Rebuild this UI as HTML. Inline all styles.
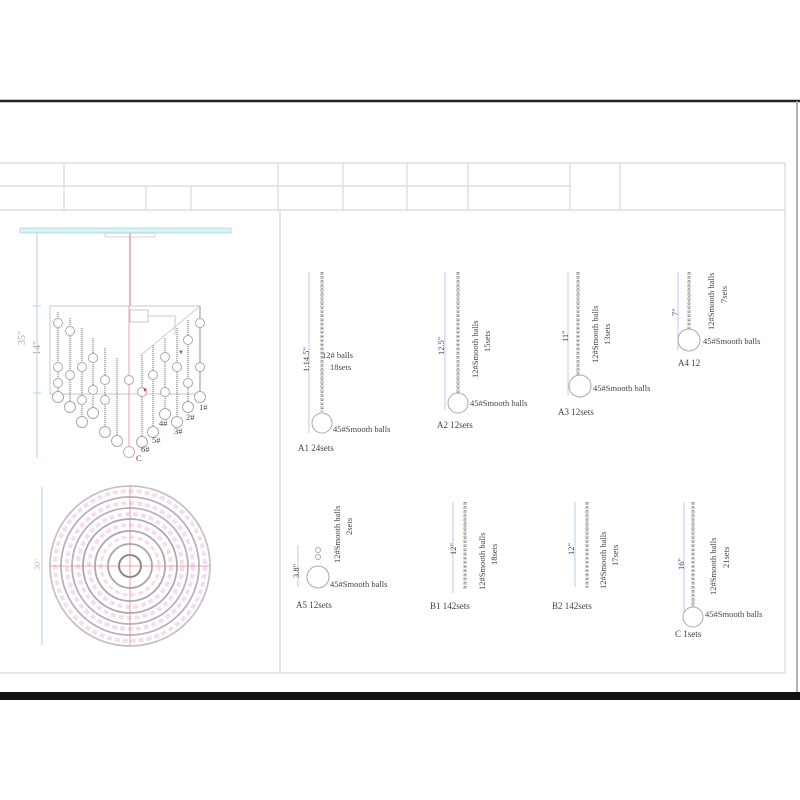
<!DOCTYPE html>
<html><head><meta charset="utf-8"><style>
html,body{margin:0;padding:0;background:#fff}
svg{display:block}
text{font-family:"Liberation Serif",serif;fill:#444;font-size:8.5px}
.g{stroke:#d8d8d8;stroke-width:1.2;fill:none}
.ch{stroke:#c4c4c4;stroke-width:3.5;stroke-dasharray:3 1.2;fill:none}
.cd{stroke:#666;stroke-width:1;stroke-dasharray:1 3;fill:none}
.dm{stroke:#9ec6e8;stroke-width:0.8}
.b{fill:#fff;stroke:#aaa;stroke-width:1}
.lc{stroke:#aaa;stroke-width:1.6;stroke-dasharray:1.2 0.8}
.lb{fill:none;stroke:#bbb;stroke-width:0.8}
</style></head><body>
<svg width="800" height="800" viewBox="0 0 800 800" xmlns="http://www.w3.org/2000/svg">
<rect width="800" height="800" fill="#fff"/>
<line x1="0" y1="101" x2="800" y2="101" stroke="#222" stroke-width="2.5"/>
<line x1="797" y1="101" x2="797" y2="696" stroke="#999" stroke-width="1.5"/>
<rect x="0" y="692" width="800" height="8" fill="#111"/>
<line x1="0" y1="673" x2="785" y2="673" class="g"/>
<line x1="785" y1="163" x2="785" y2="673" class="g"/>
<line x1="0" y1="163" x2="785" y2="163" class="g"/>
<line x1="0" y1="186" x2="570" y2="186" class="g"/>
<line x1="0" y1="210" x2="785" y2="210" class="g"/>
<g class="g">
<line x1="64" y1="163" x2="64" y2="210"/><line x1="278" y1="163" x2="278" y2="210"/>
<line x1="343" y1="163" x2="343" y2="210"/><line x1="407" y1="163" x2="407" y2="210"/>
<line x1="468" y1="163" x2="468" y2="210"/><line x1="570" y1="163" x2="570" y2="210"/>
<line x1="620" y1="163" x2="620" y2="210"/>
<line x1="146" y1="186" x2="146" y2="210"/><line x1="191" y1="186" x2="191" y2="210"/>
<line x1="280" y1="210" x2="280" y2="673"/>
</g>
<rect x="20" y="228" width="211" height="5" fill="#d8f3f6" stroke="#9cc" stroke-width="0.6"/>
<rect x="105" y="233" width="50" height="4" fill="none" stroke="#bbb" stroke-width="0.6"/>
<line x1="130" y1="233" x2="130" y2="306" stroke="#e9a0a0" stroke-width="1.5"/>
<line x1="37" y1="233" x2="37" y2="458" class="dm"/>
<line x1="33" y1="306" x2="41" y2="306" class="dm"/><line x1="33" y1="393" x2="41" y2="393" class="dm"/>
<text transform="translate(25,345) rotate(-90)" style="fill:#aaa;font-size:10px">35"</text>
<text transform="translate(40,355) rotate(-90)" style="fill:#aaa;font-size:10px">14"</text>
<rect x="50" y="306" width="150" height="88" class="lb"/>
<line x1="200" y1="306" x2="140" y2="356" class="lb"/>
<rect x="130" y="310" width="18" height="12" class="lb"/>
<path d="M148 316 H175 V335" class="lb"/>
<g>
<line x1="58" y1="312" x2="58" y2="392" class="lc"/><line x1="70" y1="318" x2="70" y2="402" class="lc"/>
<line x1="82" y1="328" x2="82" y2="417" class="lc"/><line x1="93" y1="338" x2="93" y2="408" class="lc"/>
<line x1="105" y1="348" x2="105" y2="427" class="lc"/><line x1="117" y1="358" x2="117" y2="436" class="lc"/>
<line x1="129" y1="306" x2="129" y2="447" stroke="#e9a0a0" stroke-width="1"/>
<line x1="142" y1="355" x2="142" y2="437" class="lc"/><line x1="153" y1="345" x2="153" y2="427" class="lc"/>
<line x1="165" y1="338" x2="165" y2="409" class="lc"/><line x1="177" y1="328" x2="177" y2="417" class="lc"/>
<line x1="188" y1="320" x2="188" y2="402" class="lc"/><line x1="200" y1="306" x2="200" y2="392" class="lc"/>
</g>
<g class="b" fill="none">
<circle cx="58" cy="397" r="5.5"/><circle cx="70" cy="407" r="5.5"/><circle cx="82" cy="422" r="5.5"/>
<circle cx="93" cy="413" r="5.5"/><circle cx="105" cy="432" r="5.5"/><circle cx="117" cy="441" r="5.5"/>
<circle cx="129" cy="452" r="5.5" style="stroke:#e9a0a0"/><circle cx="142" cy="442" r="5.5"/>
<circle cx="153" cy="432" r="5.5"/><circle cx="165" cy="414" r="5.5"/><circle cx="177" cy="422" r="5.5"/>
<circle cx="188" cy="407" r="5.5"/><circle cx="200" cy="397" r="5.5"/>
<circle cx="58" cy="323" r="4.5"/><circle cx="58" cy="367" r="4.5"/><circle cx="58" cy="383" r="4.5"/>
<circle cx="70" cy="331" r="4.5"/><circle cx="70" cy="375" r="4.5"/><circle cx="82" cy="367" r="4.5"/><circle cx="82" cy="400" r="4.5"/>
<circle cx="93" cy="358" r="4.5"/><circle cx="93" cy="390" r="4.5"/><circle cx="105" cy="380" r="4.5"/><circle cx="105" cy="400" r="4.5"/>
<circle cx="129" cy="380" r="4.5"/><circle cx="142" cy="392" r="4.5"/><circle cx="153" cy="375" r="4.5"/><circle cx="165" cy="357" r="4.5"/><circle cx="165" cy="392" r="4.5"/>
<circle cx="177" cy="367" r="4.5"/><circle cx="188" cy="340" r="4.5"/><circle cx="188" cy="383" r="4.5"/>
<circle cx="200" cy="323" r="4.5"/><circle cx="200" cy="367" r="4.5"/>
</g>
<text x="199" y="410">1#</text><text x="186" y="420">2#</text><text x="174" y="434">3#</text>
<text x="159" y="426">4#</text><text x="152" y="443">5#</text><text x="141" y="452">6#</text><text x="136" y="461">C</text>
<text x="178" y="354" style="fill:#d33;font-size:6px">▼</text><text x="142" y="392" style="fill:#d33;font-size:6px">▼</text>
<line x1="42" y1="487" x2="42" y2="645" class="dm"/>
<text transform="translate(40,570) rotate(-90)" style="fill:#bbb;font-size:8px">30"</text>
<g fill="none">
<circle cx="130" cy="566" r="75" stroke="#f6dcf3" stroke-width="4" stroke-dasharray="5 3"/>
<circle cx="130" cy="566" r="63" stroke="#f6dcf3" stroke-width="4" stroke-dasharray="5 3"/>
<circle cx="130" cy="566" r="52" stroke="#f6dcf3" stroke-width="4" stroke-dasharray="5 3"/>
<circle cx="130" cy="566" r="41" stroke="#f6dcf3" stroke-width="4" stroke-dasharray="5 3"/>
<circle cx="130" cy="566" r="29" stroke="#f6dcf3" stroke-width="3" stroke-dasharray="5 3"/>
<circle cx="130" cy="566" r="80" stroke="#c4c4c4" stroke-width="1.8"/>
<circle cx="130" cy="566" r="69" stroke="#b4b4b4" stroke-width="1.8"/>
<circle cx="130" cy="566" r="58" stroke="#b4b4b4" stroke-width="1.8"/>
<circle cx="130" cy="566" r="47" stroke="#aaa" stroke-width="1.8"/>
<circle cx="130" cy="566" r="35" stroke="#aaa" stroke-width="1.8"/>
<circle cx="130" cy="566" r="22" stroke="#aaa" stroke-width="1.8"/>
<circle cx="130" cy="566" r="11" stroke="#888" stroke-width="2"/>
</g>
<line x1="50" y1="566" x2="210" y2="566" stroke="#f08a8a" stroke-width="0.8"/>
<line x1="130" y1="486" x2="130" y2="646" stroke="#f08a8a" stroke-width="0.8"/>
<line x1="309" y1="272" x2="309" y2="433" class="dm"/>
<line x1="322" y1="272" x2="322" y2="412" class="ch"/><line x1="322" y1="272" x2="322" y2="412" class="cd"/>
<circle cx="322" cy="423" r="10" class="b"/>
<text transform="translate(309,372) rotate(-90)">1:14.5"</text>
<text x="322" y="358">12# balls</text><text x="330" y="370">18sets</text>
<text x="333" y="432">45#Smooth balls</text>
<text x="298" y="451" style="font-size:9px">A1 24sets</text>
<line x1="445" y1="272" x2="445" y2="410" class="dm"/>
<line x1="458" y1="272" x2="458" y2="393" class="ch"/><line x1="458" y1="272" x2="458" y2="393" class="cd"/>
<circle cx="458" cy="403" r="10" class="b"/>
<text transform="translate(444,355) rotate(-90)">12.5"</text>
<text transform="translate(478,378) rotate(-90)">12#Smooth balls</text>
<text transform="translate(490,352) rotate(-90)">15sets</text>
<text x="470" y="406">45#Smooth balls</text>
<text x="437" y="428" style="font-size:9px">A2 12sets</text>
<line x1="568" y1="272" x2="568" y2="395" class="dm"/>
<line x1="578" y1="272" x2="578" y2="375" class="ch"/><line x1="578" y1="272" x2="578" y2="375" class="cd"/>
<circle cx="580" cy="386" r="11" class="b"/>
<text transform="translate(568,342) rotate(-90)">11"</text>
<text transform="translate(598,363) rotate(-90)">12#Smooth balls</text>
<text transform="translate(610,345) rotate(-90)">13sets</text>
<text x="593" y="391">45#Smooth balls</text>
<text x="558" y="415" style="font-size:9px">A3 12sets</text>
<line x1="678" y1="272" x2="678" y2="350" class="dm"/>
<line x1="689" y1="272" x2="689" y2="329" class="ch"/><line x1="689" y1="272" x2="689" y2="329" class="cd"/>
<circle cx="689" cy="340" r="11" class="b"/>
<text transform="translate(678,316) rotate(-90)">7"</text>
<text transform="translate(714,330) rotate(-90)">12#Smooth balls</text>
<text transform="translate(727,303) rotate(-90)">7sets</text>
<text x="703" y="344">45#Smooth balls</text>
<text x="678" y="366" style="font-size:9px">A4 12</text>
<line x1="298" y1="545" x2="298" y2="587" class="dm"/>
<circle cx="318" cy="550" r="2.5" class="b"/><circle cx="318" cy="557" r="2.5" class="b"/>
<circle cx="318" cy="577" r="11" class="b"/>
<text transform="translate(299,578) rotate(-90)">3.8"</text>
<text transform="translate(340,563) rotate(-90)">12#Smooth balls</text>
<text transform="translate(352,535) rotate(-90)">2sets</text>
<text x="330" y="587">45#Smooth balls</text>
<text x="296" y="608" style="font-size:9px">A5 12sets</text>
<line x1="453" y1="502" x2="453" y2="593" class="dm"/>
<line x1="465" y1="502" x2="465" y2="590" class="ch"/><line x1="465" y1="502" x2="465" y2="590" class="cd"/>
<text transform="translate(456,555) rotate(-90)">12"</text>
<text transform="translate(485,590) rotate(-90)">12#Smooth balls</text>
<text transform="translate(497,565) rotate(-90)">18sets</text>
<text x="430" y="609" style="font-size:9px">B1 142sets</text>
<line x1="575" y1="502" x2="575" y2="587" class="dm"/>
<line x1="587" y1="502" x2="587" y2="588" class="ch"/><line x1="587" y1="502" x2="587" y2="588" class="cd"/>
<text transform="translate(574,555) rotate(-90)">12"</text>
<text transform="translate(606,589) rotate(-90)">12#Smooth balls</text>
<text transform="translate(618,566) rotate(-90)">17sets</text>
<text x="552" y="609" style="font-size:9px">B2 142sets</text>
<line x1="684" y1="502" x2="684" y2="622" class="dm"/>
<line x1="693" y1="502" x2="693" y2="607" class="ch"/><line x1="693" y1="502" x2="693" y2="607" class="cd"/>
<circle cx="693" cy="617" r="10" class="b"/>
<text transform="translate(684,570) rotate(-90)">16"</text>
<text transform="translate(716,595) rotate(-90)">12#Smooth balls</text>
<text transform="translate(729,568) rotate(-90)">21sets</text>
<text x="705" y="617">45#Smooth balls</text>
<text x="675" y="637" style="font-size:9px">C 1sets</text>
</svg>
</body></html>
